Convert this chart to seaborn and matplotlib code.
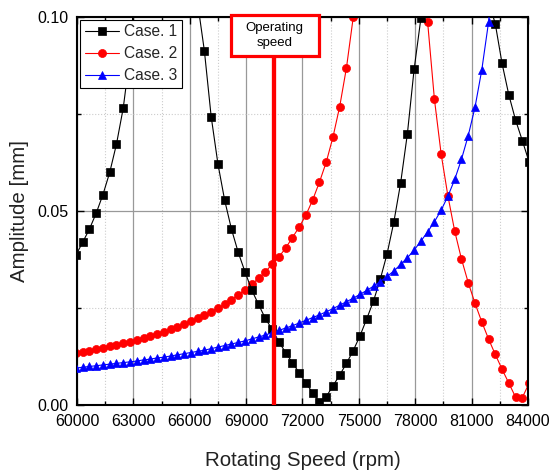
import numpy as np
import pandas as pd
import matplotlib
matplotlib.use("Agg")
import matplotlib.pyplot as plt
from matplotlib.patches import Rectangle
from matplotlib.ticker import MultipleLocator
import seaborn as sns

# ---------------- data ----------------
speed_rpm = [59940, 60300, 60660, 61020, 61380, 61740, 62100, 62460, 62820, 63180,
             63540, 63900, 64260, 64620, 64980, 65340, 65700, 66060, 66420, 66780,
             67140, 67500, 67860, 68220, 68580, 68940, 69300, 69660, 70020, 70380,
             70740, 71100, 71460, 71820, 72180, 72540, 72900, 73260, 73620, 73980,
             74340, 74700, 75060, 75420, 75780, 76140, 76500, 76860, 77220, 77580,
             77940, 78300, 78660, 79020, 79380, 79740, 80100, 80460, 80820, 81180,
             81540, 81900, 82260, 82620, 82980, 83340, 83700, 84060]

case1 = [0.0385, 0.0418, 0.0452, 0.0493, 0.0541, 0.0598, 0.0671, 0.0764, 0.0900, 0.115,
         0.16, 0.25, 0.5, 0.6, 0.3, 0.2, 0.15, 0.125, 0.1035, 0.0911,
         0.0742, 0.0620, 0.0526, 0.0452, 0.0392, 0.0342, 0.0295, 0.0258, 0.0222, 0.0194,
         0.0162, 0.0134, 0.0108, 0.0082, 0.0056, 0.0030, 0.0007, 0.0020, 0.0048, 0.0076,
         0.0106, 0.0139, 0.0177, 0.0221, 0.0267, 0.0323, 0.0388, 0.0470, 0.0570, 0.0697,
         0.0864, 0.0995, 0.6, 0.35, 0.25, 0.2, 0.18, 0.17, 0.15, 0.13,
         0.115, 0.104, 0.0981, 0.0879, 0.0798, 0.0733, 0.0680, 0.0625]

case2 = [0.0132, 0.0135, 0.0138, 0.0142, 0.0146, 0.0150, 0.0154, 0.0158, 0.0162, 0.0166,
         0.0171, 0.0176, 0.0182, 0.0188, 0.0194, 0.0201, 0.0208, 0.0215, 0.0222, 0.0230,
         0.0239, 0.0248, 0.0258, 0.0270, 0.0282, 0.0296, 0.0310, 0.0325, 0.0342, 0.0361,
         0.0380, 0.0403, 0.0430, 0.0457, 0.0488, 0.0527, 0.0573, 0.0624, 0.0689, 0.0768,
         0.0868, 0.0998, 0.118, 0.145, 0.19, 0.28, 0.5, 0.6, 0.3, 0.18,
         0.13, 0.107, 0.0985, 0.0787, 0.0645, 0.0537, 0.0447, 0.0375, 0.0314, 0.0261,
         0.0213, 0.0169, 0.0129, 0.0091, 0.0055, 0.0019, 0.0018, 0.0055]

case3 = [0.0094, 0.0096, 0.0098, 0.0100, 0.0102, 0.0104, 0.0106, 0.0108, 0.0110, 0.0112,
         0.0115, 0.0117, 0.0120, 0.0122, 0.0125, 0.0128, 0.0131, 0.0134, 0.0137, 0.0140,
         0.0144, 0.0148, 0.0152, 0.0156, 0.0160, 0.0164, 0.0169, 0.0174, 0.0179, 0.0185,
         0.0191, 0.0197, 0.0203, 0.0210, 0.0217, 0.0224, 0.0231, 0.0239, 0.0247, 0.0256,
         0.0265, 0.0274, 0.0284, 0.0294, 0.0305, 0.0317, 0.0330, 0.0344, 0.0361, 0.0378,
         0.0398, 0.0421, 0.0445, 0.0471, 0.0501, 0.0537, 0.0580, 0.0632, 0.0693, 0.0766,
         0.0862, 0.0985, 0.118, 0.15, 0.2, 0.3, 0.45, 0.6]

series_names = ["Case. 1", "Case. 2", "Case. 3"]
x_ticks = [60000, 63000, 66000, 69000, 72000, 75000, 78000, 81000, 84000]
y_ticks = [0.00, 0.05, 0.10]
y_tick_labels = ["0.00", "0.05", "0.10"]

op_speed = 70460
op_label = "Operating\nspeed"
op_box_x = [68170, 72875]
op_box_y = [0.0898, 0.1004]

# ---------------- style ----------------
sns.set_theme(style="ticks")
plt.rcParams["font.family"] = ["Liberation Sans", "DejaVu Sans"]

fig = plt.figure(figsize=(5.52, 4.73), dpi=100)
ax = fig.add_axes([0.1395, 0.1448, 0.8170, 0.8203])

df = pd.DataFrame({"speed": speed_rpm, "c1": case1, "c2": case2, "c3": case3})

styles = [
    ("c1", series_names[0], "#000000", "s", 5.2, 3),
    ("c2", series_names[1], "#ff0000", "o", 5.8, 2),
    ("c3", series_names[2], "#0000ff", "^", 6.4, 4),
]
for col, name, colr, mk, ms, z in styles:
    sns.lineplot(data=df, x="speed", y=col, ax=ax, color=colr, marker=mk,
                 markersize=ms, markeredgecolor=colr, markerfacecolor=colr,
                 markeredgewidth=0.5, linewidth=0.8, label=name, zorder=z,
                 sort=True, estimator=None)

# operating speed marker
ax.vlines(op_speed, 0, op_box_y[0], color="#ff0000", linewidth=3.1, zorder=6)
ax.add_patch(Rectangle((op_box_x[0], op_box_y[0]), op_box_x[1] - op_box_x[0],
                       op_box_y[1] - op_box_y[0], facecolor="white",
                       edgecolor="#ff0000", linewidth=2.3, zorder=7, clip_on=False))
ax.text((op_box_x[0] + op_box_x[1]) / 2, (op_box_y[0] + op_box_y[1]) / 2, op_label,
        ha="center", va="center", fontsize=9.5, linespacing=1.25, zorder=8,
        color="black")

ax.set_xlim(60000, 84000)
ax.set_ylim(0, 0.10)
ax.set_xticks(x_ticks)
ax.set_xticklabels([str(t) for t in x_ticks])
ax.set_yticks(y_ticks)
ax.set_yticklabels(y_tick_labels)
ax.xaxis.set_minor_locator(MultipleLocator(1500))
ax.yaxis.set_minor_locator(MultipleLocator(0.025))

ax.tick_params(which="both", direction="in", top=True, right=True, colors="black")
ax.tick_params(which="major", length=5, width=1.0, labelsize=11.5)
ax.tick_params(axis="x", which="major", pad=7)
ax.tick_params(axis="y", which="major", pad=6)
ax.tick_params(which="minor", length=3, width=1.0)

ax.set_axisbelow(True)
ax.grid(which="major", color="#999999", linewidth=0.9, linestyle="-")
ax.grid(which="minor", color="#cccccc", linewidth=0.8, linestyle=":")

for sp in ax.spines.values():
    sp.set_color("black")
    sp.set_linewidth(1.5)

ax.set_xlabel("Rotating Speed (rpm)", fontsize=14.8, labelpad=16, color="#222222")
ax.set_ylabel("Amplitude [mm]", fontsize=14.8, labelpad=6, color="#222222")

leg = ax.legend(loc="upper left", fontsize=11.2, frameon=True, fancybox=False,
                framealpha=1, edgecolor="black", borderaxespad=0.2,
                handlelength=2.2, labelspacing=0.45, borderpad=0.3,
                handletextpad=0.35)
leg.get_frame().set_linewidth(0.8)
leg.set_zorder(10)

fig.savefig("out.png", dpi=100)
